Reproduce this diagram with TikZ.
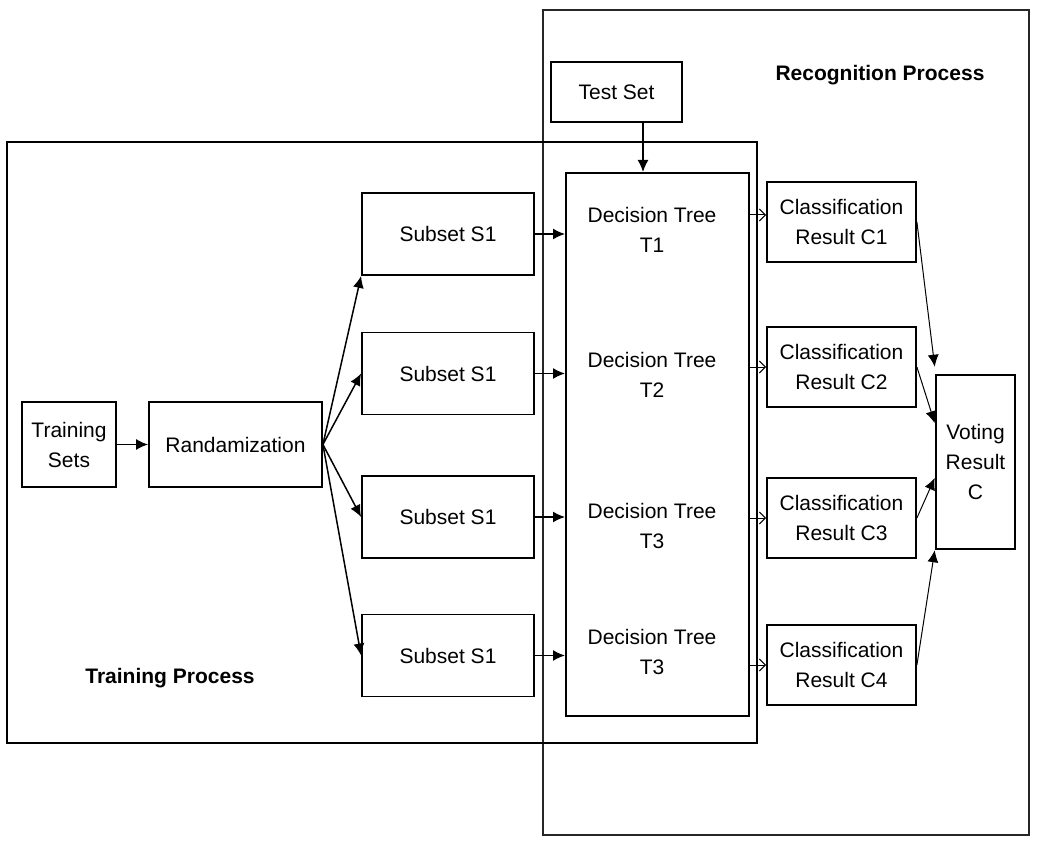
\documentclass[tikz,border=0pt]{standalone}
\usepackage{fontspec}
\setmainfont{Liberation Sans}
\usetikzlibrary{calc,arrows.meta}

\begin{document}
\begin{tikzpicture}[x=1pt,y=-1pt,
                    font=\fontsize{21}{30}\selectfont,
                    box/.style={draw,line width=1.8pt,align=center,inner sep=0pt},
                    txt/.style={align=center},
                    arr/.style={line width=1.5pt,-{Latex[length=12pt,width=11pt]}},
                    thinarr/.style={line width=1pt,-{Straight Barb[length=6pt,width=12pt]}}]

\useasboundingbox[fill=white] (0,0) rectangle (1037,845);

%%%% process frames
\draw[line width=1.3pt,black!85] (543,10) rectangle (1029,835);
\draw[line width=2.8pt] (7,142) rectangle (757,743);

\node[font=\fontsize{21}{30}\selectfont\bfseries] (recog) at (880,75) {Recognition Process};
\node[font=\fontsize{21}{30}\selectfont\bfseries] (train) at (170,678) {Training Process};


%%%% training side
\node[box,minimum width=94pt,minimum height=85pt] (tset) at (69,444.5) {Training\\Sets};
\node[box,minimum width=173pt,minimum height=85pt] (rand) at (235.5,444.5) {Randamization};

%% subsets
\node[box,minimum width=172pt,minimum height=82pt] (s1) at (448,234) {Subset S1};
\node[box,minimum width=172pt,minimum height=82pt] (s2) at (448,373.5) {Subset S1};
\node[box,minimum width=172pt,minimum height=82pt] (s3) at (448,517) {Subset S1};
\node[box,minimum width=172pt,minimum height=82pt] (s4) at (448,655.5) {Subset S1};


%%%% trees
\node[box,minimum width=131pt,minimum height=60pt] (test) at (616.5,92) {Test Set};
\node[box,line width=2pt,minimum width=183pt,minimum height=543pt] (dtree) at (657.5,444.5) {};

\node[txt] (dt1) at (652,230) {Decision Tree\\T1};
\node[txt] (dt2) at (652,375) {Decision Tree\\T2};
\node[txt] (dt3) at (652,526) {Decision Tree\\T3};
\node[txt] (dt4) at (652,652) {Decision Tree\\T3};


%%%% results
\node[box,minimum width=149pt,minimum height=80pt] (c1) at (841.5,222) {Classification\\Result C1};
\node[box,minimum width=149pt,minimum height=80pt] (c2) at (841.5,367) {Classification\\Result C2};
\node[box,minimum width=149pt,minimum height=80pt] (c3) at (841.5,518) {Classification\\Result C3};
\node[box,minimum width=149pt,minimum height=80pt] (c4) at (841.5,665) {Classification\\Result C4};

\node[box,line width=2.5pt,minimum width=79pt,minimum height=174pt] (vote) at (975.5,462) {Voting\\Result\\C};


%% ARROWS
\draw[arr] (tset) -- (rand);

\draw[arr] (rand.east) -- (s1.south west);
\draw[arr] (rand.east) -- (s2.west);
\draw[arr] (rand.east) -- (s3.west);
\draw[arr] (rand.east) -- (s4.west);

\draw[arr] (s1.east) -- (s1.east -| dtree.west);
\draw[arr] (s2.east) -- (s2.east -| dtree.west);
\draw[arr] (s3.east) -- (s3.east -| dtree.west);
\draw[arr] (s4.east) -- (s4.east -| dtree.west);

\draw[arr] ([xshift=26.5pt]test.south) -- ([xshift=26.5pt]test.south |- dtree.north);

\draw[thinarr] ([yshift=7pt]c1.west -| dtree.east) -- ([yshift=7pt]c1.west);
\draw[thinarr] (c2.west -| dtree.east) -- (c2.west);
\draw[thinarr] (c3.west -| dtree.east) -- (c3.west);
\draw[thinarr] (c4.west -| dtree.east) -- (c4.west);

% voting
\draw[arr,line width=1pt] (c1.east) -- ([yshift=7pt]vote.north west);
\draw[arr,line width=1pt] (c2.east) -- ($(vote.north west)!0.28!(vote.south west)$);
\draw[arr,line width=1pt] (c3.east) -- ($(vote.north west)!0.59!(vote.south west)$);
\draw[arr,line width=1pt] (c4.east) -- (vote.south west);

\end{tikzpicture}
\end{document}
